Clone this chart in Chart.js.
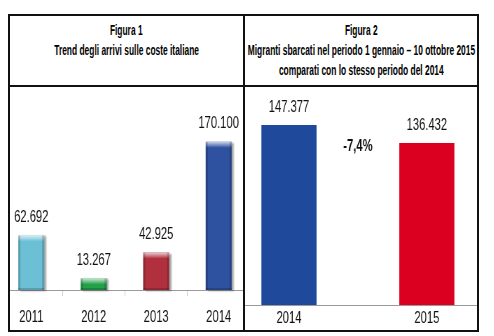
<!DOCTYPE html>
<html>
<head>
<meta charset="utf-8">
<script src="https://cdn.jsdelivr.net/npm/chart.js@4.4.1/dist/chart.umd.min.js"></script>
<style>
    body {
        margin: 0;
        background: #fff;
        width: 494px;
        height: 336px;
        position: relative;
        overflow: hidden;
        font-family: "Liberation Sans", Arial, sans-serif;
    }
    .line { position: absolute; background: #111; }
    .head {
        position: absolute;
        top: 20px;
        font-weight: bold;
        font-size: 14px;
        line-height: 20px;
        color: #000;
    }
    .head div { display: flex; justify-content: center; }
    .head span { display: inline-block; transform: scaleX(.6); white-space: nowrap; }
    .clip { position: absolute; overflow: hidden; }
    /* the original figures are narrow, so the canvases are squeezed sideways */
    .clip canvas { position: absolute; top: 0; transform: scaleX(.7); transform-origin: 0 0; }
</style>
</head>
<body>
<!-- table frame -->
<div class="line" style="left:8px;top:14px;width:471px;height:2px"></div>
<div class="line" style="left:8px;top:330px;width:471px;height:2px"></div>
<div class="line" style="left:8px;top:14px;width:2px;height:318px"></div>
<div class="line" style="left:477px;top:14px;width:2px;height:318px"></div>
<div class="line" style="left:243px;top:14px;width:2px;height:318px"></div>
<div class="line" style="left:8px;top:85px;width:471px;height:2px"></div>

<div class="head" style="left:10px;width:233px">
    <div><span>Figura 1</span></div>
    <div><span>Trend degli arrivi sulle coste italiane</span></div>
</div>
<div class="head" style="left:245px;width:232px">
    <div><span>Figura 2</span></div>
    <div><span>Migranti sbarcati nel periodo 1 gennaio – 10 ottobre 2015</span></div>
    <div><span>comparati con lo stesso periodo del 2014</span></div>
</div>

<div class="clip" style="left:10px;top:87px;width:233px;height:243px">
    <canvas id="trend" width="357" height="243" style="left:-10px"></canvas>
</div>
<div class="clip" style="left:245px;top:87px;width:232px;height:243px">
    <canvas id="confronto" width="394" height="241" style="left:-25px"></canvas>
</div>

<script>
// Figura 1
const anni = ["2011", "2012", "2013", "2014"];
const arrivi = [62692, 13267, 42925, 170100];
const coloriAnni = ["#6cc0d6", "#22a04a", "#b0303e", "#2e52a0"];

// Figura 2
const periodi = ["2014", "2015"];
const sbarcati = [147377, 136432];
const coloriPeriodi = ["#1f4a9c", "#dc0020"];

const FONT = '"Liberation Sans", Arial, sans-serif';

const fmt = (v) => String(v).replace(/\B(?=(\d{3})+(?!\d))/g, ".");

const shadow = {
    id: "shadow",
    beforeDatasetsDraw(chart) {
        const ctx = chart.ctx;
        ctx.save();
        ctx.shadowColor = "rgba(0,0,0,.35)";
        ctx.shadowOffsetX = 3;
        ctx.shadowOffsetY = 1;
        ctx.shadowBlur = 2;
    },
    afterDatasetsDraw(chart) {
        chart.ctx.restore();
    },
};

// fake 3d bevel like the excel bars
const bevel = {
    id: "bevel",
    afterDatasetsDraw(chart) {
        const ctx = chart.ctx;
        chart.getDatasetMeta(0).data.forEach((b) => {
            const l = b.x - b.width / 2, w = b.width, t = b.y, h = b.base - b.y;
            const g = ctx.createLinearGradient(0, t, 0, t + 6);
            g.addColorStop(0, "rgba(255,255,255,.75)");
            g.addColorStop(1, "rgba(255,255,255,0)");
            ctx.fillStyle = g;
            ctx.fillRect(l, t, w, Math.min(6, h));
            ctx.fillStyle = "rgba(0,0,0,.18)";
            ctx.fillRect(l, t, 3, h);
            ctx.fillRect(l + w - 3, t, 3, h);
            ctx.fillRect(l, b.base - 2, w, 2);
        });
    },
};

const valueLabels = (gap) => ({
    id: "valueLabels",
    afterDatasetsDraw(chart) {
        const ctx = chart.ctx;
        const values = chart.data.datasets[0].data;
        ctx.save();
        ctx.font = "16px " + FONT;
        ctx.fillStyle = "#111";
        ctx.textAlign = "center";
        ctx.textBaseline = "middle";
        chart.getDatasetMeta(0).data.forEach((b, i) => {
            ctx.fillText(fmt(values[i]), b.x, b.y - gap);
        });
        ctx.restore();
    },
});

const variazione = {
    id: "variazione",
    afterDatasetsDraw(chart) {
        const ctx = chart.ctx;
        const [a, b] = chart.getDatasetMeta(0).data;
        const pct = ((sbarcati[1] - sbarcati[0]) / sbarcati[0] * 100).toFixed(1).replace(".", ",") + "%";
        ctx.save();
        ctx.font = "bold 16px " + FONT;
        ctx.fillStyle = "#111";
        ctx.textAlign = "center";
        ctx.textBaseline = "middle";
        ctx.fillText(pct, (a.x + b.x) / 2, Math.max(a.y, b.y) + 4);
        ctx.restore();
    },
};

new Chart(document.getElementById("trend"), {
    type: "bar",
    data: {
        labels: anni,
        datasets: [{
            data: arrivi,
            backgroundColor: coloriAnni,
            barPercentage: 0.52,
            categoryPercentage: 0.8,
            clip: false,
        }],
    },
    options: {
        responsive: false,
        animation: false,
        layout: {padding: 0},
        plugins: {legend: {display: false}, tooltip: {enabled: false}},
        scales: {
            x: {
                grid: {display: true, drawOnChartArea: false, tickLength: 6, color: "#c8c8c8"},
                border: {color: "#9a9a9a"},
                ticks: {color: "#111", font: {family: FONT, size: 16}, padding: 12},
                afterFit: (s) => { s.height = 40; },
            },
            y: {display: false, min: 0, max: 233000},
        },
    },
    plugins: [shadow, bevel, valueLabels(18)],
});

// the original figure 2 does not start its value axis at zero
new Chart(document.getElementById("confronto"), {
    type: "bar",
    data: {
        labels: periodi,
        datasets: [{
            data: sbarcati,
            backgroundColor: coloriPeriodi,
            barPercentage: 0.5,
            categoryPercentage: 0.8,
        }],
    },
    options: {
        responsive: false,
        animation: false,
        layout: {padding: 0},
        plugins: {legend: {display: false}, tooltip: {enabled: false}},
        scales: {
            x: {
                grid: {display: false, drawTicks: false},
                border: {color: "#9a9a9a"},
                ticks: {color: "#111", font: {family: FONT, size: 16}, padding: 4},
                afterFit: (s) => { s.height = 23; },
            },
            y: {display: false, min: 38000, max: 170500},
        },
    },
    plugins: [valueLabels(17), variazione],
});
</script>
</body>
</html>
